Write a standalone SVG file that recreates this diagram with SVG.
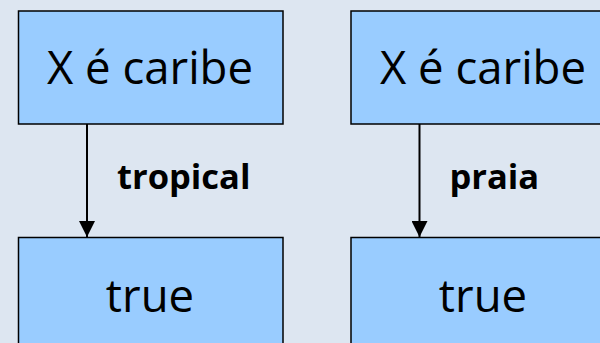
<svg xmlns="http://www.w3.org/2000/svg" width="600" height="343" viewBox="0 0 600 343">
  <style>
    .box { fill: #99ccff; stroke: #000; stroke-width: 1.5; }
    .big { font-family: "Open Sans", "Noto Sans", sans-serif; font-size: 45.5px; fill: #000; text-anchor: middle; }
    .lbl { font-family: "Open Sans", "Noto Sans", sans-serif; font-size: 34.5px; font-weight: bold; fill: #000; }
    .edge { stroke: #000; stroke-width: 2; fill: none; }
  </style>
  <defs>
    <marker id="arrow" markerUnits="userSpaceOnUse" markerWidth="16" markerHeight="16" refX="16" refY="8" orient="auto">
      <path d="M0,0 L16,8 L0,16 Z" fill="#000"/>
    </marker>
  </defs>
  <rect width="600" height="343" fill="#dde6f1"/>

  <g id="connectors">
    <line class="edge" x1="87" y1="124" x2="87" y2="237" marker-end="url(#arrow)"/>
    <text class="lbl" x="117" y="189">tropical</text>
    <line class="edge" x1="419.5" y1="124" x2="419.5" y2="237" marker-end="url(#arrow)"/>
    <text class="lbl" x="449.5" y="189">praia</text>
  </g>

  <g id="caribe-left">
    <rect class="box" x="18.5" y="11" width="264.5" height="113"/>
    <text class="big" x="150" y="83.5">X é caribe</text>
  </g>
  <g id="true-left">
    <rect class="box" x="18.5" y="237.5" width="264.5" height="120"/>
    <text class="big" x="150" y="312">true</text>
  </g>
  <g id="caribe-right">
    <rect class="box" x="351" y="11" width="264.5" height="113"/>
    <text class="big" x="483" y="83.5">X é caribe</text>
  </g>
  <g id="true-right">
    <rect class="box" x="351" y="237.5" width="264.5" height="120"/>
    <text class="big" x="483" y="312">true</text>
  </g>
</svg>
